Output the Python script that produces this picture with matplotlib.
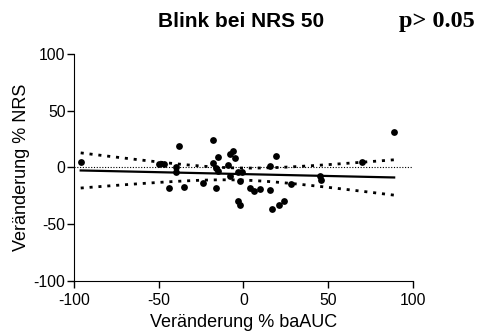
import numpy as np
import matplotlib
matplotlib.use("Agg")
import matplotlib.pyplot as plt

# Werte
baauc = [-96, -50, -47, -40, -40, -38, -44, -35, -24, -16, -18, -15, -18, -16,
         -15, -8, -6, -5, -9, -8, -3, -1, -2, -3, -2, 4, 6, 10, 16, 16, 19, 17,
         21, 24, 28, 45, 46, 70, 89]
nrs = [5, 3, 3, 0, -4, 19, -18, -17, -14, -18, 24, 9, 4, -1,
       -3, 12, 14, 8, 2, -8, -4, -4, -12, -30, -33, -18, -21, -19, -20, 1, 10, -37,
       -33, -30, -15, -8, -11, 5, 31]
ticks = [-100, -50, 0, 50, 100]
t_crit = 2.026  # t(0.975, df=37)

plt.rcParams['font.family'] = ['Liberation Sans', 'DejaVu Sans']
plt.rcParams['axes.unicode_minus'] = False

x = np.array(baauc, dtype=float)
y = np.array(nrs, dtype=float)
n = len(x)
slope, icpt = np.polyfit(x, y, 1)
resid = y - (slope * x + icpt)
s = np.sqrt(np.sum(resid ** 2) / (n - 2))
sxx = np.sum((x - x.mean()) ** 2)
xs = np.linspace(x.min(), x.max(), 100)
ys = slope * xs + icpt
half = t_crit * s * np.sqrt(1 / n + (xs - x.mean()) ** 2 / sxx)

fig = plt.figure(figsize=(4.8, 3.36), dpi=100)
ax = fig.add_axes([0.154, 0.165, 0.706, 0.674])

ax.axhline(0, color='black', lw=0.8, ls=(0, (1, 1.5)), zorder=1)
ax.plot(xs, ys, color='black', lw=1.6, zorder=2)
for band in (ys + half, ys - half):
    ax.plot(xs, band, color='black', lw=2.0, dashes=(1.1, 2.1),
            dash_capstyle='butt', zorder=2)
ax.scatter(x, y, s=24, color='black', zorder=3, linewidths=0)

ax.set_xlim(-100, 100)
ax.set_ylim(-100, 100)
ax.set_xticks(ticks)
ax.set_yticks(ticks)
ax.spines['top'].set_visible(False)
ax.spines['right'].set_visible(False)
ax.tick_params(direction='out', length=5, width=1, labelsize=11.3)
ax.tick_params(axis='x', pad=4)
ax.tick_params(axis='y', pad=1)
ax.set_xlabel('Veränderung % baAUC', fontsize=13, labelpad=4)
ax.set_ylabel('Veränderung % NRS', fontsize=13, labelpad=3)

fig.text(0.503, 0.92, 'Blink bei NRS 50', ha='center', va='baseline',
         fontsize=15, fontweight='bold')
fig.text(0.831, 0.92, 'p> 0.05', ha='left', va='baseline',
         fontsize=17.5, fontweight='bold', family=['Liberation Serif'])

fig.savefig('out.png', dpi=100)
